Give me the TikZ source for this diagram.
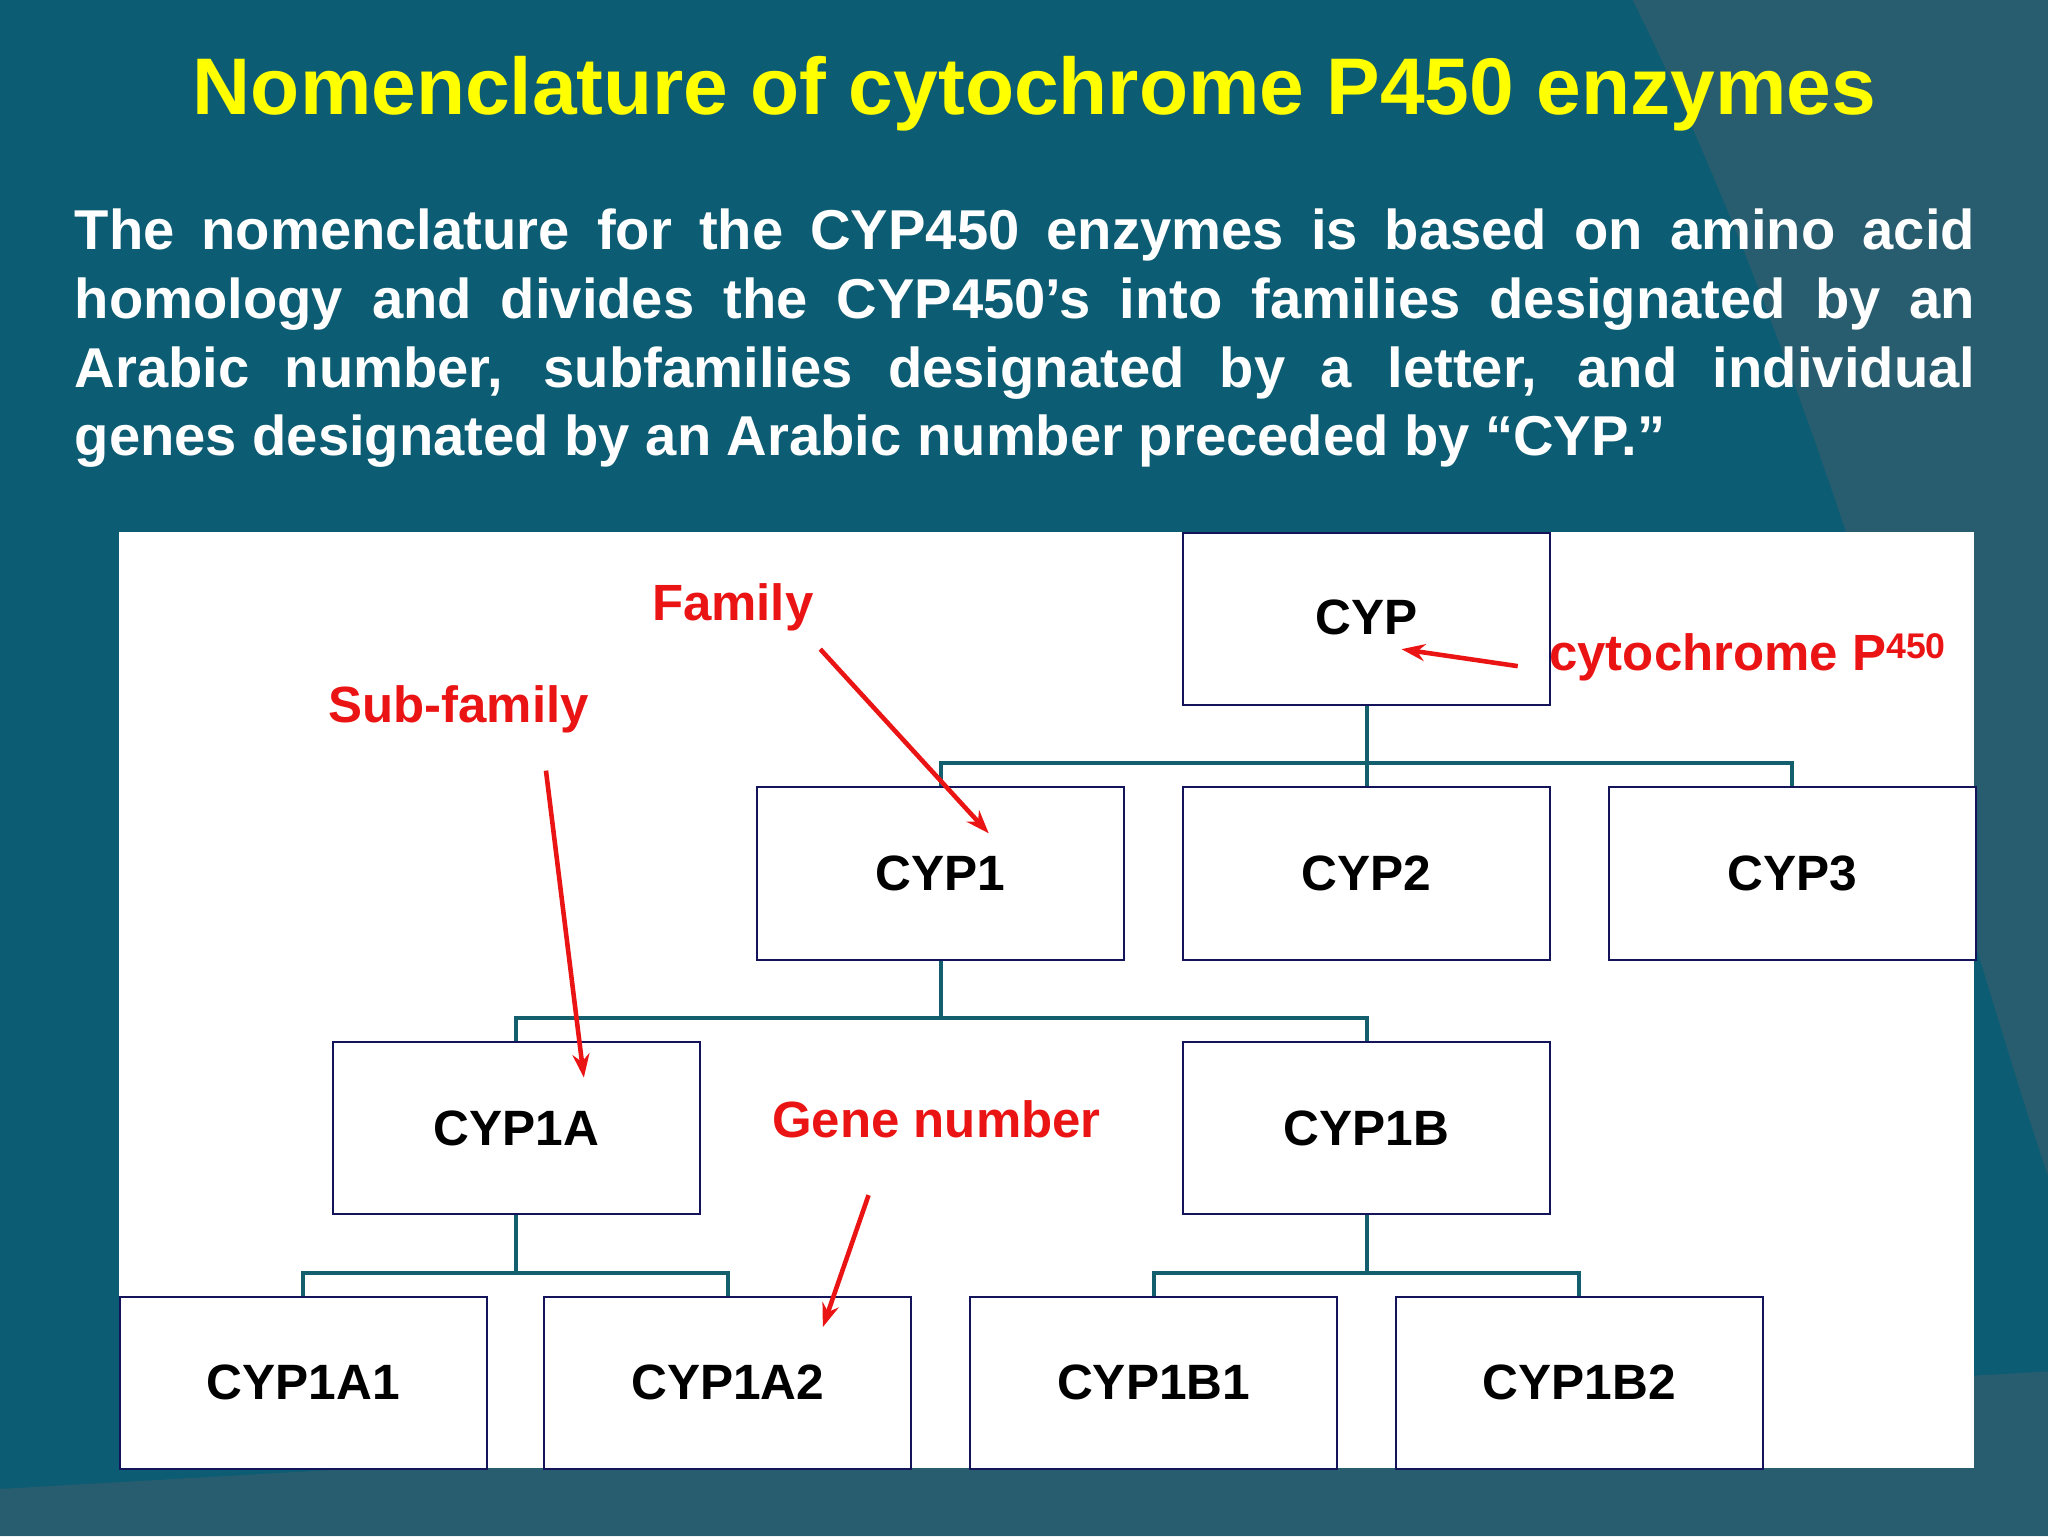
\documentclass[tikz,border=0pt]{standalone}
\usepackage{fontspec}
\setmainfont{Liberation Sans}
\usetikzlibrary{arrows.meta}
\definecolor{bg}{RGB}{12,92,115}
\definecolor{bg2}{RGB}{60,95,110}
\definecolor{ttl}{RGB}{255,255,0}
\definecolor{conn}{RGB}{20,95,110}
\definecolor{bx}{RGB}{20,20,90}
\definecolor{rd}{RGB}{235,20,20}
\begin{document}
\begin{tikzpicture}[x=1pt,y=-1pt,
  box/.style={draw=bx,line width=1.5pt,fill=white,minimum width=281pt,minimum height=132pt,anchor=north west,font=\fontsize{38}{42}\selectfont\bfseries},
  link/.style={draw=conn,line width=3pt},
  lab/.style={text=rd,font=\fontsize{39}{44}\selectfont\bfseries},
  rarr/.style={draw=rd,line width=3.5pt,-{Stealth[length=18pt,width=13pt]}}]
\useasboundingbox (0,0) rectangle (1568,1176);
\fill[bg] (0,0) rectangle (1568,1176);
\fill[bg2,opacity=0.6] (1250,0) .. controls (1400,300) and (1500,700) .. (1568,900) -- (1568,0) -- cycle;
\fill[bg2,opacity=0.6] (0,1140) -- (1568,1050) -- (1568,1176) -- (0,1176) -- cycle;
\node[text=ttl,font=\fontsize{61.5}{66}\selectfont\bfseries] (title) at (792,72) {Nomenclature of cytochrome P450 enzymes};
\node[text=white,anchor=north west,text width=1455pt,align=justify,inner sep=0pt,font=\fontsize{43}{52.5}\selectfont\bfseries] (body) at (57,160) {The nomenclature for the CYP450 enzymes is based on amino acid\linebreak homology and divides the CYP450’s into families designated by an\linebreak Arabic number, subfamilies designated by a letter, and individual\linebreak genes designated by an Arabic number preceded by “CYP.”};
\fill[white] (91,407) rectangle (1511,1124);
\node[box] (cyp) at (905,407) {};
\node[font=\fontsize{38}{42}\selectfont\bfseries] (cyplab) at (1046,473) {CYP};
\node[box] (c1) at (579,602) {CYP1};
\node[box] (c2) at (905,602) {CYP2};
\node[box] (c3) at (1231,602) {CYP3};
\node[box] (c1a) at (254,797) {CYP1A};
\node[box] (c1b) at (905,797) {CYP1B};
\node[box] (a1) at (91,992) {CYP1A1};
\node[box] (a2) at (416,992) {CYP1A2};
\node[box] (b1) at (742,992) {CYP1B1};
\node[box] (b2) at (1068,992) {CYP1B2};
\draw[link] (cyp.south) -- ++(0,44) -| (c1.north);
\draw[link] (cyp.south) -- ++(0,44) -| (c3.north);
\draw[link] (cyp.south) -- (c2.north);
\draw[link] (c1.south) -- ++(0,44) -| (c1a.north);
\draw[link] (c1.south) -- ++(0,44) -| (c1b.north);
\draw[link] (c1a.south) -- ++(0,44) -| (a1.north);
\draw[link] (c1a.south) -- ++(0,44) -| (a2.north);
\draw[link] (c1b.south) -- ++(0,44) -| (b1.north);
\draw[link] (c1b.south) -- ++(0,44) -| (b2.north);
\node[lab] (fam) at (561,465) {Family};
\node[lab] (sub) at (351,543) {Sub-family};
\node[lab] (gene) at (717,857) {Gene number};
\node[lab,anchor=west,inner sep=0pt] (cyto) at (1186,503) {cytochrome P\textsuperscript{450}};
\coordinate (f0) at (628,497); \coordinate (f1) at (757,638);
\coordinate (s0) at (418,590); \coordinate (s1) at (447,825);
\coordinate (g0) at (665,915); \coordinate (g1) at (630,1016);
\coordinate (k0) at (1162,510); \coordinate (k1) at (1073,497);
\draw[rarr] (f0) -- (f1);
\draw[rarr] (s0) -- (s1);
\draw[rarr] (g0) -- (g1);
\draw[rarr] (k0) -- (k1);
\end{tikzpicture}
\end{document}
